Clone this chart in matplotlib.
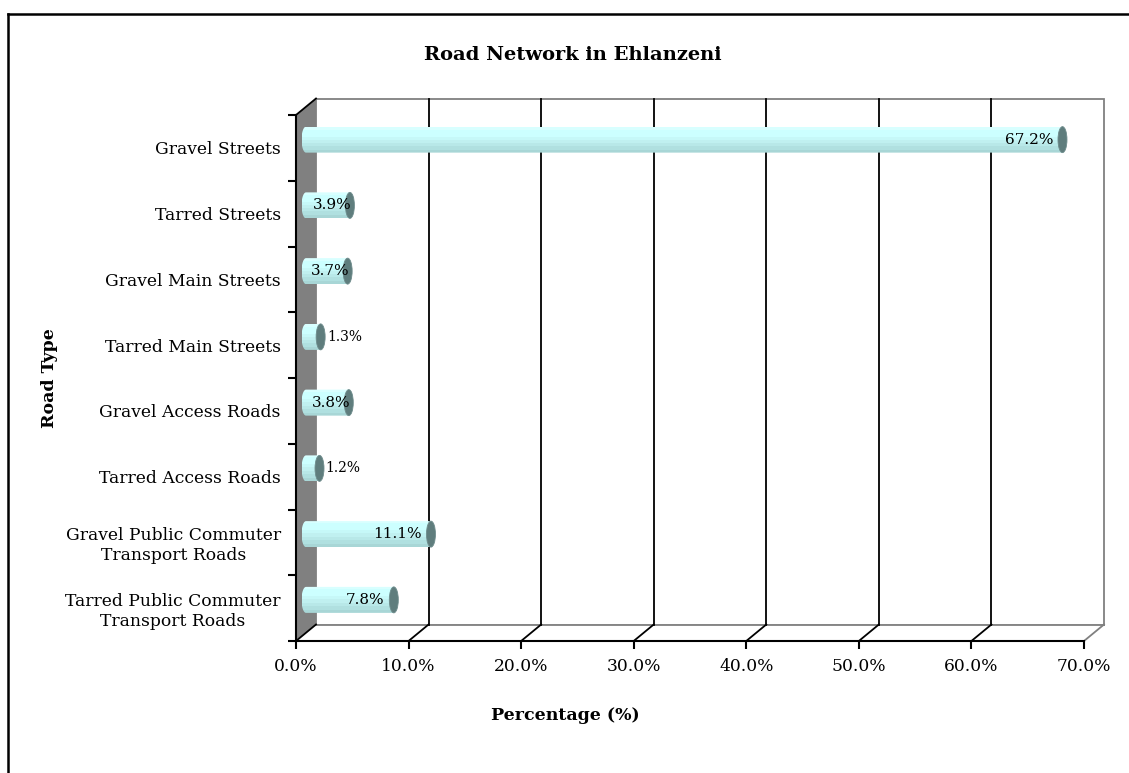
import numpy as np
import matplotlib.pyplot as plt
from matplotlib.patches import Polygon, Rectangle, Ellipse, PathPatch
from matplotlib.path import Path
from matplotlib.lines import Line2D

road_types = [
    "Gravel Streets",
    "Tarred Streets",
    "Gravel Main Streets",
    "Tarred Main Streets",
    "Gravel Access Roads",
    "Tarred Access Roads",
    "Gravel Public Commuter\nTransport Roads",
    "Tarred Public Commuter\nTransport Roads",
]
percentages = [67.2, 3.9, 3.7, 1.3, 3.8, 1.2, 11.1, 7.8]
x_ticks = [0, 10, 20, 30, 40, 50, 60, 70]
x_tick_labels = ["0.0%", "10.0%", "20.0%", "30.0%", "40.0%", "50.0%", "60.0%", "70.0%"]

plt.rcParams["font.family"] = "DejaVu Serif"

W, H = 1129, 773
fig = plt.figure(figsize=(W / 100, H / 100), dpi=100)
ax = fig.add_axes([296 / W, (H - 641) / H, (1084 - 296) / W, (641 - 115) / H])
ax.set_xlim(0, 70)
ax.set_ylim(len(road_types) - 0.5, -0.5)
ax.set_autoscale_on(False)
ax.patch.set_visible(False)

# pixel sizes of one data unit, used for the fake 3d depth
px_x = (1084 - 296) / 70
px_y = (641 - 115) / len(road_types)
ddx = 20 / px_x
ddy = 16.5 / px_y
xmax = 70
ytop, ybot = -0.5, len(road_types) - 0.5

wall_gray = "#808080"
# back wall
ax.add_patch(Rectangle((ddx, ytop - ddy), xmax, ybot - ytop, fc="white",
                       ec=wall_gray, lw=1.3, zorder=0, clip_on=False))
# side wall
ax.add_patch(Polygon([(0, ytop), (ddx, ytop - ddy), (ddx, ybot - ddy), (0, ybot)],
                     closed=True, fc=wall_gray, ec="none", zorder=1, clip_on=False))
ax.plot([0, ddx], [ytop, ytop - ddy], color="black", lw=1.3, zorder=2, clip_on=False)
# floor
ax.add_patch(Polygon([(0, ybot), (xmax, ybot), (xmax + ddx, ybot - ddy), (ddx, ybot - ddy)],
                     closed=True, fc="white", ec="none", zorder=1, clip_on=False))
ax.plot([ddx, xmax + ddx], [ybot - ddy, ybot - ddy], color=wall_gray, lw=1.3, zorder=2, clip_on=False)
ax.plot([xmax, xmax + ddx], [ybot, ybot - ddy], color=wall_gray, lw=1.3, zorder=2, clip_on=False)

for x in x_ticks[:-1]:
    ax.plot([x, x + ddx], [ybot, ybot - ddy], color="black", lw=1.3, zorder=2, clip_on=False)
    if x > 0:
        ax.plot([x + ddx, x + ddx], [ytop - ddy, ybot - ddy], color="black", lw=1.3,
                zorder=2, clip_on=False)

# cylinders
body_colors = ["#d8ffff", "#ccffff", "#ccffff", "#c6f8f8", "#c0f0f0", "#b8e8e8", "#b0e0e0", "#a8d6d6"]
grad = np.array([[plt.matplotlib.colors.to_rgb(c)] for c in body_colors])
rx = 4.5 / px_x
hh = 13 / px_y
t = np.linspace(0, np.pi, 40)
for i, v in enumerate(percentages):
    x0 = ddx / 2
    x1 = v + ddx / 2
    yc = i - ddy / 2
    arc = np.column_stack([x0 - rx * np.sin(t), yc - hh * np.cos(t)])
    verts = np.vstack([[x1, yc - hh], arc, [x1, yc + hh], [x1, yc - hh]])
    codes = [Path.MOVETO] + [Path.LINETO] * (len(verts) - 2) + [Path.CLOSEPOLY]
    clip = PathPatch(Path(verts, codes), transform=ax.transData)
    im = ax.imshow(grad, extent=(x0 - rx, x1, yc + hh, yc - hh), origin="upper",
                   aspect="auto", interpolation="nearest", zorder=3)
    im.set_clip_path(clip)
    ax.add_patch(Ellipse((x1, yc), 2 * rx, 2 * hh, fc="#5f7d7d", ec="#6e8c8c",
                         lw=0.6, zorder=4))

    label = f"{v}%"
    if v > 5:
        ax.annotate(label, (x1, yc), xytext=(-6.5, 0), textcoords="offset points",
                    ha="right", va="center", fontsize=11, zorder=5)
    elif v > 2:
        ax.annotate(label, (x1, yc), xytext=(1, 0), textcoords="offset points",
                    ha="right", va="center", fontsize=11, zorder=5)
    else:
        ax.annotate(label, (x1, yc), xytext=(4.5, 0), textcoords="offset points",
                    ha="left", va="center", fontsize=10, zorder=5)

ax.set_xlim(0, 70)
ax.set_ylim(ybot, ytop)

for side in ["top", "right"]:
    ax.spines[side].set_visible(False)
for side in ["left", "bottom"]:
    ax.spines[side].set_linewidth(1.5)
    ax.spines[side].set_zorder(6)

ax.set_xticks(x_ticks)
ax.set_xticklabels(x_tick_labels, fontsize=12.3)
ax.tick_params(axis="x", length=6, width=1.5, pad=6)
ax.set_yticks(range(len(road_types)))
ax.set_yticklabels(road_types, fontsize=12.3)
ax.set_yticks(np.arange(-0.5, len(road_types)), minor=True)
ax.tick_params(axis="y", which="major", length=0, pad=11)
ax.tick_params(axis="y", which="minor", length=6, width=1.5)
for lab in ax.get_yticklabels():
    lab.set_multialignment("center")

fig.text(573 / W, 1 - 55 / H, "Road Network in Ehlanzeni", ha="center", va="center",
         fontsize=14, fontweight="bold")
fig.text(50 / W, 1 - 378 / H, "Road Type", ha="center", va="center", rotation=90,
         fontsize=12.5, fontweight="bold")
fig.text(565 / W, 1 - 716 / H, "Percentage (%)", ha="center", va="center",
         fontsize=12.5, fontweight="bold")

# chart area border
fig.add_artist(Line2D([8 / W, 1], [1 - 14 / H, 1 - 14 / H], transform=fig.transFigure,
                      color="black", lw=1.8))
fig.add_artist(Line2D([8 / W, 8 / W], [1 - 14 / H, 0], transform=fig.transFigure,
                      color="black", lw=1.8))

fig.savefig("out.png", dpi=100)
